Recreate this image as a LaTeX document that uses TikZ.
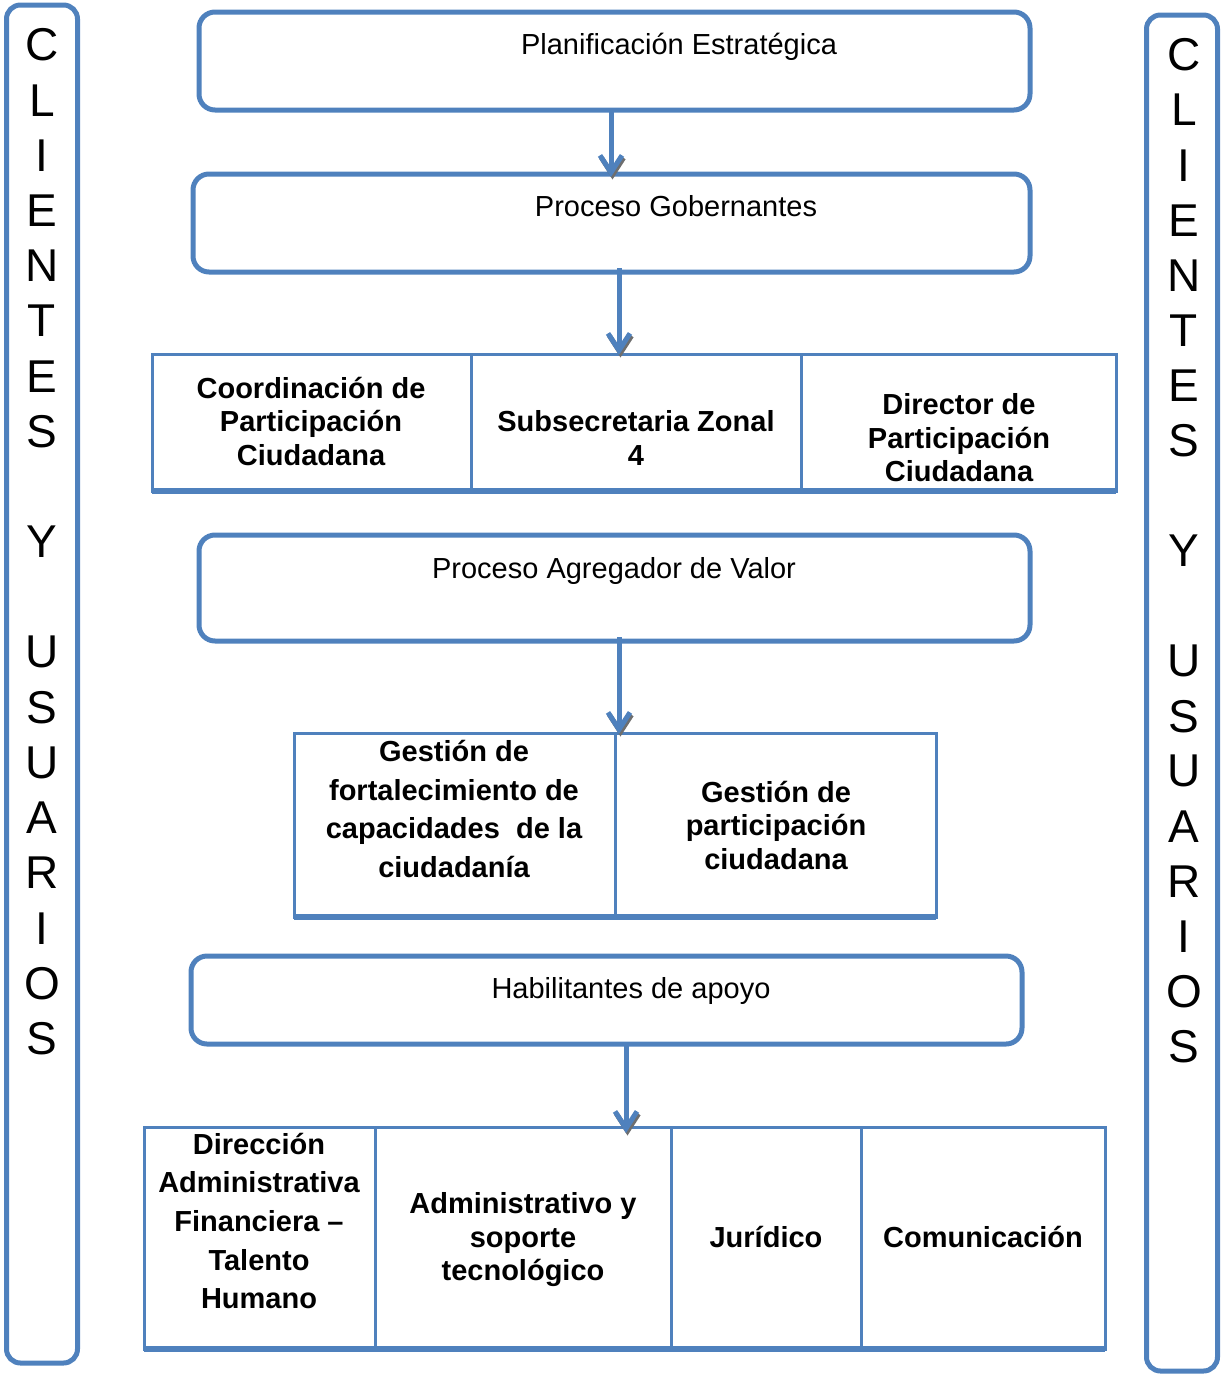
\documentclass[tikz,border=0pt]{standalone}
\usepackage{fontspec}
\setmainfont{Liberation Sans}
\usetikzlibrary{arrows.meta,calc}
\definecolor{frame}{HTML}{4F81BD}
\definecolor{tipshade}{HTML}{6E6E6E}
\tikzset{
  rbox/.style={draw=frame, line width=5pt, rounded corners=16pt, inner sep=0pt, outer sep=0pt},
  sidebar/.style={rbox, rounded corners=14pt},
  cell/.style={draw=frame, line width=3pt, inner sep=0pt, outer sep=0pt},
  baseline rule/.style={draw=frame, line width=6pt},
  boxtext/.style={font=\fontsize{29}{33.5}\selectfont, inner sep=0pt},
  celltext/.style={font=\fontsize{29}{33.5}\selectfont\bfseries, align=center, inner sep=0pt},
  tallcell/.style={celltext, font=\fontsize{29}{38.7}\selectfont\bfseries},
  sideletter/.style={font=\fontsize{46}{46}\selectfont, inner sep=0pt},
  flow/.style={draw=frame, line width=5pt, -{Straight Barb[length=17pt,width=22pt]}},
  tipshadow/.style={draw=tipshade, line width=5pt, -{Straight Barb[length=17pt,width=22pt]}},
}
\newcommand\flowarrow[2]{%
  \draw[tipshadow] ($(#2)+(1.5,-14)$) -- ($(#2)+(1.5,2.5)$);
  \draw[flow] (#1) -- (#2);}
\begin{document}
\begin{tikzpicture}[x=1pt,y=-1pt]
\path[use as bounding box] (0,0) rectangle (1223,1382);

% side bars
\node[sidebar, minimum width=71pt, minimum height=1358pt] (leftbar) at (42,684) {};
\node[sidebar, minimum width=71pt, minimum height=1356pt] (rightbar) at (1182,693) {};
\foreach \ch [count=\i from 0] in {C,L,I,E,N,T,E,S,{},Y,{},U,S,U,A,R,I,O,S} {
  \node[sideletter] (ll\i) at (42,45+55.2*\i) {\ch};
  \node[sideletter] (rl\i) at (1184,55+55.1*\i) {\ch};
}

% process boxes
\node[rbox, minimum width=831pt, minimum height=98pt] (b1) at (614.5,61) {};
\node[boxtext] (b1t) at (679,47) {Planificación Estratégica};
\node[rbox, minimum width=837pt, minimum height=98pt] (b2) at (611.5,223) {};
\node[boxtext] (b2t) at (676,206) {Proceso Gobernantes};
\node[rbox, minimum width=831pt, minimum height=106pt] (b3) at (614.5,588) {};
\node[boxtext] (b3t) at (614,571) {Proceso Agregador de Valor};
\node[rbox, minimum width=831pt, minimum height=88pt] (b4) at (606.5,1000) {};
\node[boxtext] (b4t) at (631,991) {Habilitantes de apoyo};

% first table
\node[cell, minimum width=319pt, minimum height=137pt] (t11) at (311.5,422.5) {};
\node[cell, minimum width=330pt, minimum height=137pt] (t12) at (636,422.5) {};
\node[cell, minimum width=315pt, minimum height=137pt] (t13) at (958.5,422.5) {};
\draw[baseline rule] (t11.south west) -- (t13.south east);
\node[celltext] (t11t) at (311,421) {Coordinación de\\Participación\\Ciudadana};
\node[celltext] (t12t) at (636,438) {Subsecretaria Zonal\\4};
\node[celltext] (t13t) at (959,438) {Director de\\Participación\\Ciudadana};

% second table
\node[cell, minimum width=321pt, minimum height=184pt] (t21) at (454.5,825) {};
\node[cell, minimum width=321pt, minimum height=184pt] (t22) at (775.5,825) {};
\draw[baseline rule] (t21.south west) -- (t22.south east);
\node[tallcell] (t21t) at (454,809) {Gestión de\\fortalecimiento de\\capacidades\ \ de la\\ciudadanía};
\node[celltext] (t22t) at (776,825) {Gestión de\\participación\\ciudadana};

% third table
\node[cell, minimum width=231pt, minimum height=222pt] (t31) at (259.5,1238) {};
\node[cell, minimum width=296pt, minimum height=222pt] (t32) at (523,1238) {};
\node[cell, minimum width=190pt, minimum height=222pt] (t33) at (766,1238) {};
\node[cell, minimum width=244pt, minimum height=222pt] (t34) at (983,1238) {};
\draw[baseline rule] (t31.south west) -- (t34.south east);
\node[tallcell] (t31t) at (259,1221) {Dirección\\Administrativa\\Financiera –\\Talento\\Humano};
\node[celltext] (t32t) at (523,1240) {Administrativo y\\soporte\\tecnológico};
\node[celltext] (t33t) at (766,1237) {Jurídico};
\node[celltext] (t34t) at (983,1237) {Comunicación};

% connectors
\coordinate (a1s) at ([xshift=-3.5pt]b1.south);
\coordinate (a1e) at ([yshift=-3pt]a1s |- b2.north);
\coordinate (a2s) at ([xshift=7.5pt,yshift=4pt]b2.south);
\coordinate (a2e) at ([yshift=-1pt]a2s |- t11.north);
\coordinate (a3s) at ([xshift=4.5pt,yshift=4pt]b3.south);
\coordinate (a3e) at ([yshift=-1pt]a3s |- t21.north);
\coordinate (a4s) at ([xshift=19.5pt]b4.south);
\coordinate (a4e) at ([yshift=-6pt]a4s |- t31.north);
\flowarrow{a1s}{a1e}
\flowarrow{a2s}{a2e}
\flowarrow{a3s}{a3e}
\flowarrow{a4s}{a4e}
\end{tikzpicture}
\end{document}
